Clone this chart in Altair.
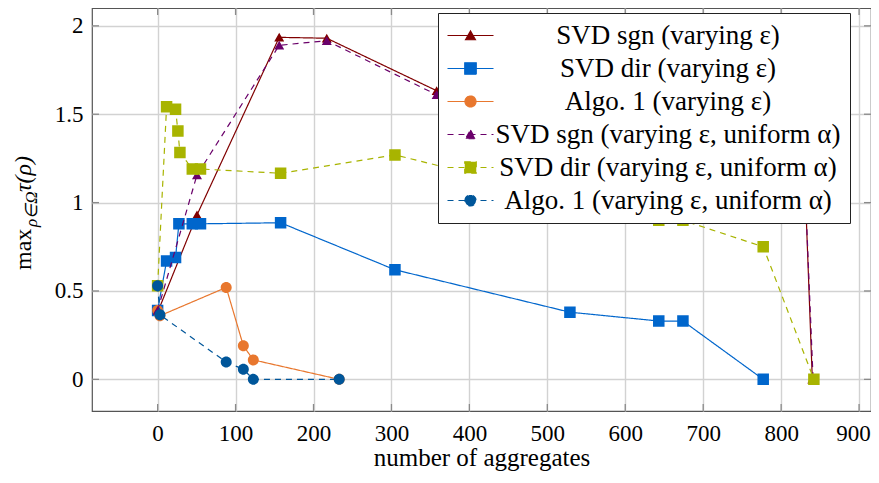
import altair as alt
import pandas as pd

# ---------------- data ----------------
labels = [
    "SVD sgn (varying ε)",
    "SVD dir (varying ε)",
    "Algo. 1 (varying ε)",
    "SVD sgn (varying ε, uniform α)",
    "SVD dir (varying ε, uniform α)",
    "Algo. 1 (varying ε, uniform α)",
]
colors = ["#800000", "#0066cc", "#e8772e", "#6a006a", "#a8b400", "#00569a"]
dashes = [[1, 0], [1, 0], [1, 0], [6, 5], [6, 5], [6, 5]]

sgn_x = [1, 50.5, 156, 217, 358, 600, 829, 840]
sgn_y = [0.39, 0.93, 1.935, 1.93, 1.633, 1.50, 1.30, 0.0]
dir_x = [0, 11.5, 23, 27.3, 44.5, 55, 157.8, 304.5, 529, 643, 674, 777]
dir_y = [0.39, 0.67, 0.69, 0.88, 0.88, 0.88, 0.886, 0.62, 0.38, 0.33, 0.33, 0.0]
algo_x = [0, 3, 88, 110, 122.8, 233]
algo_y = [0.39, 0.36, 0.52, 0.19, 0.11, 0.0]
sgnu_x = [0, 50.5, 156, 217, 358, 600, 829, 841]
sgnu_y = [0.39, 1.156, 1.89, 1.916, 1.61, 1.48, 1.28, 0.0]
diru_x = [0, 11.5, 23, 26, 28.6, 44.5, 55, 157.8, 304.5, 643, 674, 777, 842]
diru_y = [0.53, 1.543, 1.528, 1.405, 1.283, 1.19, 1.19, 1.166, 1.27, 0.90, 0.90, 0.75, 0.0]
algou_x = [0, 3, 88, 110, 122.8, 233]
algou_y = [0.53, 0.365, 0.098, 0.057, 0.0, 0.0]

xs = [sgn_x, dir_x, algo_x, sgnu_x, diru_x, algou_x]
ys = [sgn_y, dir_y, algo_y, sgnu_y, diru_y, algou_y]

x_ticks = [0, 100, 200, 300, 400, 500, 600, 700, 800, 900]
y_ticks = [0, 0.5, 1, 1.5, 2]

# marker shapes (unit paths); the short horizontal segment is only stroked in the legend
LEG = "M-4.6,0H4.6"
tri = LEG + "M0,-0.9L1,0.85L-1,0.85Z"
sqr = LEG + "M-1.15,-1.15H1.15V1.15H-1.15Z"
cir = LEG + "M-1.1,0A1.1,1.1,0,1,1,1.1,0A1.1,1.1,0,1,1,-1.1,0Z"
shapes = [tri, sqr, cir, tri, sqr, cir]

FONT = "Liberation Serif"
W, H = 779, 403

rows = []
for lab, xx, yy in zip(labels, xs, ys):
    for i, (a, b) in enumerate(zip(xx, yy)):
        rows.append({"series": lab, "x": a, "y": b, "i": i})
df = pd.DataFrame(rows)

xscale = alt.Scale(domain=[-84.2, 915.3], nice=False, zero=False)
yscale = alt.Scale(domain=[-0.179, 2.101], nice=False, zero=False)

legend = alt.Legend(
    title=None, orient="none", legendX=346, legendY=5, padding=9,
    fillColor="white", strokeColor="#222222", cornerRadius=0,
    labelFont=FONT, labelFontSize=27, labelColor="black",
    labelAlign="center", labelOffset=184, labelLimit=0,
    symbolSize=100, symbolStrokeWidth=1.2, symbolOffset=10,
    rowPadding=5,
)

xenc = alt.X("x:Q", scale=xscale, axis=alt.Axis(
    values=x_ticks, title="number of aggregates", grid=True, ticks=False, domain=False,
    labelFont=FONT, labelFontSize=23, labelColor="black", labelPadding=11,
    labelOffset={"condition": {"test": "datum.value === 900", "value": -6}, "value": 0},
    titleFont=FONT, titleFontSize=25, titleFontWeight="normal", titleColor="black",
    titlePadding=0, format="d", gridColor="#d2d2d2", gridWidth=1.4))
yenc = alt.Y("y:Q", scale=yscale, axis=alt.Axis(
    values=y_ticks, title=None, grid=True, ticks=False, domain=False,
    labelFont=FONT, labelFontSize=23, labelColor="black", labelPadding=9,
    format="~g", gridColor="#d2d2d2", gridWidth=1.4))

color = alt.Color("series:N", scale=alt.Scale(domain=labels, range=colors), legend=legend)
dash = alt.StrokeDash("series:N", scale=alt.Scale(domain=labels, range=dashes), legend=legend)
shape = alt.Shape("series:N", scale=alt.Scale(domain=labels, range=shapes), legend=legend)

# inward tick marks on all four sides (positioned through the axis scales)
xt = pd.DataFrame({"x": x_ticks})
yt = pd.DataFrame({"y": y_ticks})
TICK = dict(color="#8a8a8a", strokeWidth=1.3)
ticks = [
    alt.Chart(xt).mark_rule(**TICK).encode(x=alt.X("x:Q", scale=xscale), y=alt.value(H), y2=alt.value(H - 7)),
    alt.Chart(xt).mark_rule(**TICK).encode(x=alt.X("x:Q", scale=xscale), y=alt.value(0), y2=alt.value(7)),
    alt.Chart(yt).mark_rule(**TICK).encode(y=alt.Y("y:Q", scale=yscale), x=alt.value(0), x2=alt.value(7)),
    alt.Chart(yt).mark_rule(**TICK).encode(y=alt.Y("y:Q", scale=yscale), x=alt.value(W - 7), x2=alt.value(W)),
]

layers = []
for lab in labels:
    sub = df[df["series"] == lab]
    layers.append(alt.Chart(sub).mark_line(strokeWidth=1.2).encode(
        x=xenc, y=yenc, color=color, strokeDash=dash, order="i:Q"))
    layers.append(alt.Chart(sub).mark_point(filled=True, size=100, opacity=1).encode(
        x=xenc, y=yenc, color=color, shape=shape))

one = pd.DataFrame({"a": [0]})
ylab_max = alt.Chart(one).mark_text(
    text="max", angle=270, align="left", baseline="alphabetic",
    font=FONT, fontSize=24, color="black").encode(x=alt.value(-61), y=alt.value(262))
ylab_sub = alt.Chart(one).mark_text(
    text="ρ∈Ω", angle=270, align="left", baseline="alphabetic",
    font=FONT, fontSize=17, fontStyle="italic", color="black").encode(x=alt.value(-55), y=alt.value(219))
ylab_tau = alt.Chart(one).mark_text(
    text="τ(ρ)", angle=270, align="left", baseline="alphabetic",
    font=FONT, fontSize=24, fontStyle="italic", color="black").encode(x=alt.value(-61), y=alt.value(184))

chart = alt.layer(*ticks, *layers, ylab_max, ylab_sub, ylab_tau).properties(
    width=W, height=H,
    autosize=alt.AutoSizeParams(type="none"),
    padding={"left": 84, "top": 0, "right": 0, "bottom": 62},
    background="white",
).configure_view(stroke="#555555", strokeWidth=1.2)

chart.save("out.html", embed_options={"renderer": "svg", "actions": False})
